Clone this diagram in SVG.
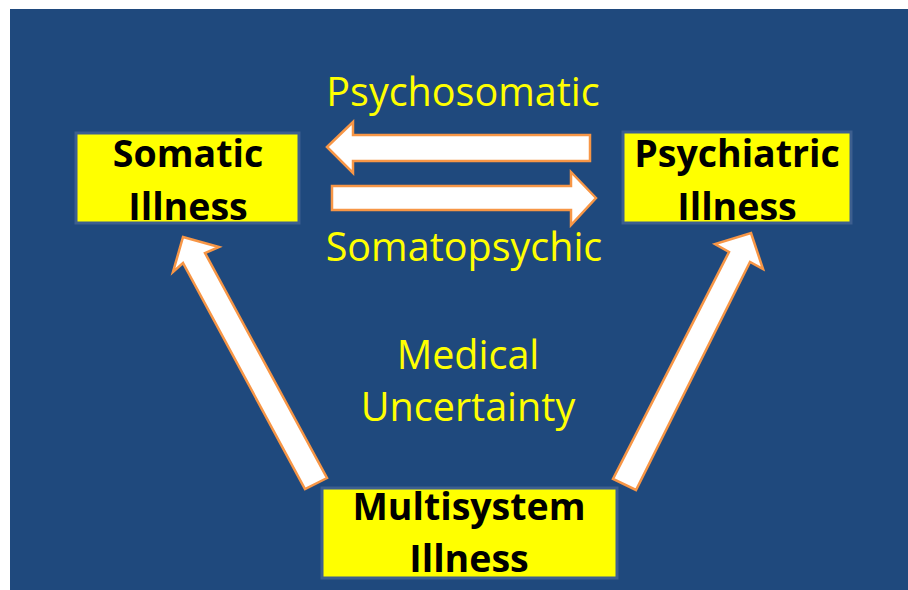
<svg xmlns="http://www.w3.org/2000/svg" width="908" height="590" viewBox="0 0 908 590">
<style>
.box{fill:#ffff00;stroke:#3d5f8f;stroke-width:3}
.bt{font-family:"Open Sans","Liberation Sans",sans-serif;font-weight:bold;font-size:37.5px;fill:#000;text-anchor:middle}
.lt{font-family:"Open Sans","Liberation Sans",sans-serif;font-size:39.5px;fill:#ffff00;text-anchor:middle}
.arr{fill:#ffffff;stroke:#f79646;stroke-width:2.5;stroke-linejoin:miter}
</style>
<rect x="0" y="0" width="908" height="590" fill="#ffffff"/>
<rect x="10" y="9" width="898" height="581" fill="#1f497d"/>
<g id="connectors">
<polygon class="arr" points="327,147 353,122 353,135 590,135 590,161 353,161 353,173"/>
<polygon class="arr" points="596,198 571,172 571,186 332,186 332,210 571,210 571,225"/>
<polygon class="arr" points="183,237 219,247 205,253 327,478 305,489 183,263 173,272"/>
<polygon class="arr" points="751,233 763,269 750,262 636,490 613,479 729,252 715,244"/>
</g>
<g id="somatic">
<rect class="box" x="76" y="133" width="223" height="90"/>
<text class="bt" x="188" y="167">Somatic</text>
<text class="bt" x="188" y="220">Illness</text>
</g>
<g id="psychiatric">
<rect class="box" x="623" y="132" width="228" height="91"/>
<text class="bt" x="737" y="167">Psychiatric</text>
<text class="bt" x="737" y="220">Illness</text>
</g>
<g id="multisystem">
<rect class="box" x="322" y="488" width="295" height="90"/>
<text class="bt" x="469" y="520">Multisystem</text>
<text class="bt" x="469" y="572">Illness</text>
</g>
<g id="labels">
<text class="lt" x="463" y="106">Psychosomatic</text>
<text class="lt" x="464" y="261">Somatopsychic</text>
<text class="lt" x="468" y="369">Medical</text>
<text class="lt" x="468" y="421">Uncertainty</text>
</g>
</svg>
